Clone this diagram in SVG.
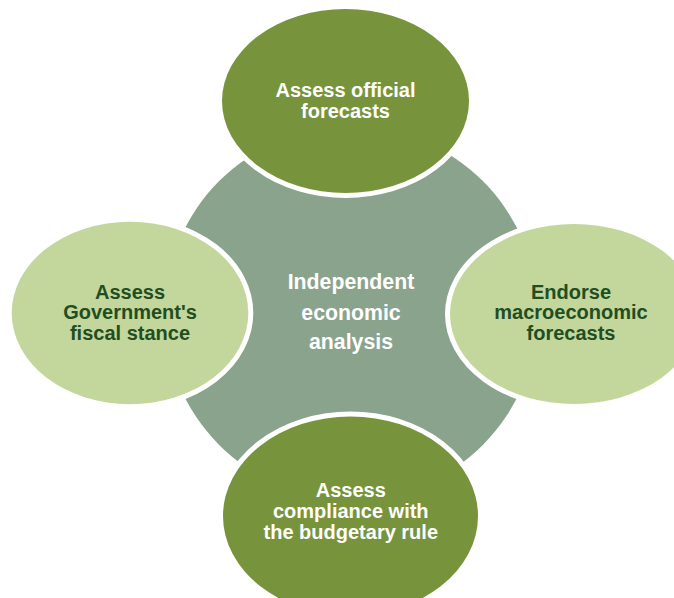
<svg xmlns="http://www.w3.org/2000/svg" width="674" height="598" viewBox="0 0 674 598">
  <style>
    .hub { fill: #8AA38D; }
    .dark { fill: #77933C; stroke: #FFFFFF; stroke-width: 10; paint-order: stroke; }
    .light { fill: #C3D69B; stroke: #FFFFFF; stroke-width: 10; paint-order: stroke; }
    text { font-family: "Liberation Sans", Arial, sans-serif; font-weight: bold; text-anchor: middle; }
    .t-dark { fill: #FFFFFF; font-size: 20px; }
    .t-light { fill: #1F4E22; font-size: 20px; }
    .t-hub { fill: #FFFFFF; font-size: 21.3px; }
  </style>
  <rect width="674" height="598" fill="#FFFFFF"/>
  <g id="connectors"></g>
  <g id="hub">
    <circle class="hub" cx="351" cy="313" r="186.5"/>
    <text class="t-hub" x="351" y="289">Independent</text>
    <text class="t-hub" x="351" y="320">economic</text>
    <text class="t-hub" x="351" y="349">analysis</text>
  </g>
  <g id="node-top">
    <ellipse class="dark" cx="345.5" cy="101" rx="123.5" ry="92"/>
    <text class="t-dark" x="345.5" y="97.3">Assess official</text>
    <text class="t-dark" x="345.5" y="118.3">forecasts</text>
  </g>
  <g id="node-left">
    <ellipse class="light" cx="130" cy="313" rx="118.3" ry="91.2"/>
    <text class="t-light" x="130" y="299">Assess</text>
    <text class="t-light" x="130" y="319.3">Government's</text>
    <text class="t-light" x="130" y="339.5">fiscal stance</text>
  </g>
  <g id="node-right">
    <ellipse class="light" cx="574" cy="314" rx="124" ry="90"/>
    <text class="t-light" x="571" y="299">Endorse</text>
    <text class="t-light" x="571" y="319.3">macroeconomic</text>
    <text class="t-light" x="571" y="339.5">forecasts</text>
  </g>
  <g id="node-bottom">
    <ellipse class="dark" cx="350.5" cy="516" rx="127.5" ry="99.5"/>
    <text class="t-dark" x="350.8" y="496.7">Assess</text>
    <text class="t-dark" x="350.8" y="517.8">compliance with</text>
    <text class="t-dark" x="350.8" y="538.5">the budgetary rule</text>
  </g>
</svg>
